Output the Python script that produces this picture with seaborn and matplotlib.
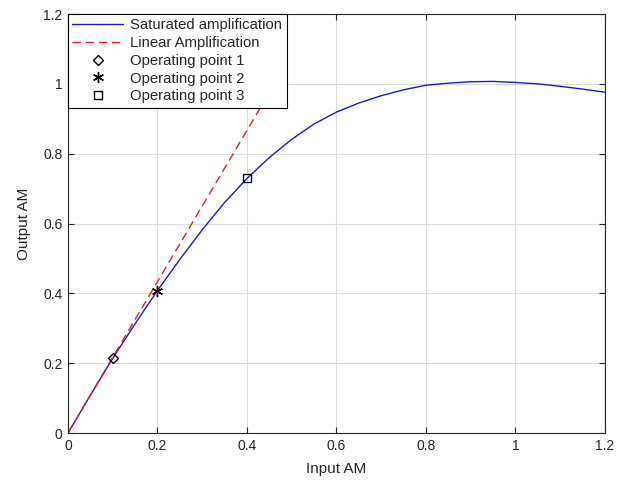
import numpy as np
import pandas as pd
import matplotlib
matplotlib.use("Agg")
import matplotlib.pyplot as plt
import seaborn as sns

# Values
input_am = [0.0, 0.05, 0.1, 0.15, 0.2, 0.25, 0.3, 0.35, 0.4, 0.45, 0.5, 0.55,
            0.6, 0.65, 0.7, 0.75, 0.8, 0.85, 0.9, 0.95, 1.0, 1.05, 1.1, 1.15, 1.2]
saturated_am = [0.0, 0.108, 0.214, 0.313, 0.408, 0.497, 0.582, 0.660, 0.729, 0.789,
                0.841, 0.885, 0.919, 0.945, 0.966, 0.983, 0.996, 1.002, 1.006,
                1.007, 1.004, 1.0, 0.993, 0.985, 0.976]
linear_x = [0.0, 0.45]
linear_y = [0.0, 0.975]
op_x = [0.1, 0.2, 0.4]
op_y = [0.214, 0.408, 0.729]
op_labels = ["Operating point 1", "Operating point 2", "Operating point 3"]

sns.set_style("whitegrid")
plt.rcParams["font.family"] = ["Liberation Sans", "DejaVu Sans"]

sat = pd.DataFrame({"x": input_am, "y": saturated_am})
lin = pd.DataFrame({"x": linear_x, "y": linear_y})

fig = plt.figure(figsize=(6.21, 4.83), dpi=100)
ax = fig.add_axes([0.1095, 0.1035, 0.8645, 0.8675])

sns.lineplot(data=sat, x="x", y="y", ax=ax, color="#1a1acc", linewidth=1.0,
             label="Saturated amplification")
sns.lineplot(data=lin, x="x", y="y", ax=ax, color="#e02020", linewidth=1.0,
             label="Linear Amplification")
ax.lines[-1].set_dashes((6, 3.5))

markers = ["D", (6, 2, 0), "s"]
sizes = [5.4, 8, 5.6]
for xv, yv, m, s, lab in zip(op_x, op_y, markers, sizes, op_labels):
    ax.plot([xv], [yv], linestyle="none", marker=m, markersize=s,
            markerfacecolor="none", markeredgecolor="black",
            markeredgewidth=1.0, label=lab)

ax.set_xlim(0, 1.2)
ax.set_ylim(0, 1.2)
ax.set_xticks([0, 0.2, 0.4, 0.6, 0.8, 1, 1.2])
ax.set_yticks([0, 0.2, 0.4, 0.6, 0.8, 1, 1.2])
ax.set_xticklabels(["0", "0.2", "0.4", "0.6", "0.8", "1", "1.2"])
ax.set_yticklabels(["0", "0.2", "0.4", "0.6", "0.8", "1", "1.2"])
ax.set_xlabel("Input AM", fontsize=11, color="#262626", labelpad=7)
ax.set_ylabel("Output AM", fontsize=11, color="#262626", labelpad=9)

ax.grid(True, color="#dcdcdc", linewidth=0.8)
for sp in ax.spines.values():
    sp.set_visible(True)
    sp.set_color("#262626")
    sp.set_linewidth(0.8)
ax.tick_params(direction="in", length=4, width=0.8, colors="#262626",
               labelsize=10, top=True, right=True, bottom=True, left=True,
               labelcolor="#262626", pad=4)

leg = ax.legend(loc="upper left", bbox_to_anchor=(0, 1), borderaxespad=0,
                fontsize=10.7, handlelength=3.4, handletextpad=0.5,
                labelspacing=0.25, borderpad=0.3, fancybox=False,
                framealpha=1, edgecolor="black")
leg.get_frame().set_linewidth(0.8)

fig.savefig("out.png", dpi=100)
